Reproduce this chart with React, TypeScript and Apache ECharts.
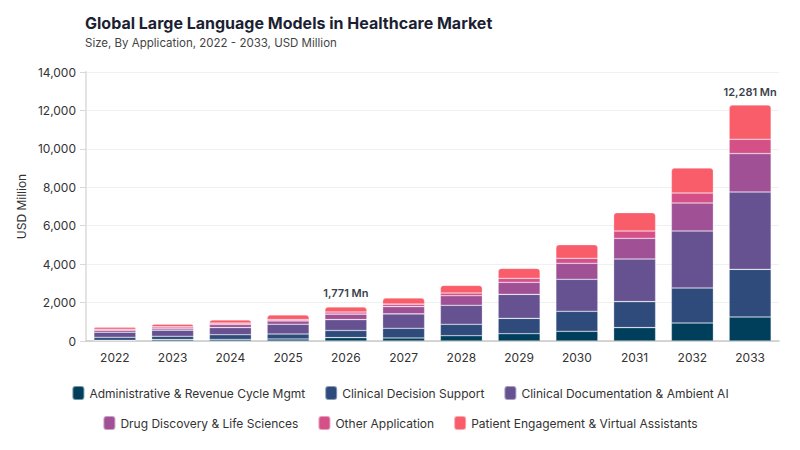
import { useEffect, useRef } from 'react'
import * as echarts from 'echarts'

const years = ['2022', '2023', '2024', '2025', '2026', '2027', '2028', '2029', '2030', '2031', '2032', '2033']

const seriesNames = [
  'Administrative & Revenue Cycle Mgmt',
  'Clinical Decision Support',
  'Clinical Documentation & Ambient AI',
  'Drug Discovery & Life Sciences',
  'Other Application',
  'Patient Engagement & Virtual Assistants',
]

const admin = [35, 70, 78, 105, 174, 160, 276, 380, 505, 697, 937, 1250]
const decision = [158, 178, 250, 260, 372, 500, 593, 800, 1041, 1353, 1822, 2480]
const documentation = [264, 317, 370, 507, 567, 750, 989, 1249, 1665, 2217, 2967, 4025]
const drug = [105, 105, 160, 173, 287, 380, 500, 625, 833, 1077, 1457, 2000]
const other = [53, 70, 72, 72, 106, 130, 139, 208, 260, 380, 520, 745]
const patient = [105, 140, 170, 243, 265, 316, 400, 520, 708, 958, 1301, 1781]

// 柱顶标注
const totalLabels: Record<string, string> = { '2026': '1,771 Mn', '2033': '12,281 Mn' }

const colors = ['#003f5c', '#2f4b7c', '#665191', '#a05195', '#d45087', '#f95d6a']

const font = 'Inter, "DejaVu Sans", sans-serif'

export default function App() {
  const chartRef = useRef<HTMLDivElement>(null)

  useEffect(() => {
    if (!chartRef.current) return
    const chart = echarts.init(chartRef.current, undefined, { renderer: 'svg' })

    const values = [admin, decision, documentation, drug, other, patient]

    const series: any[] = values.map((arr, i) => {
      const isTop = i === values.length - 1
      return {
        name: seriesNames[i],
        type: 'bar',
        stack: 'total',
        barWidth: 42,
        itemStyle: {
          color: colors[i],
          borderColor: 'rgba(255,255,255,0.45)',
          borderWidth: 0.6,
          borderRadius: isTop ? [3, 3, 0, 0] : 0,
        },
        data: isTop
          ? arr.map((v, j) => {
              const lbl = totalLabels[years[j]]
              if (!lbl) return v
              return {
                value: v,
                label: {
                  show: true,
                  position: 'top',
                  distance: 8,
                  formatter: lbl,
                  color: '#3a3f4b',
                  fontSize: 11,
                  fontWeight: 600,
                  fontFamily: font,
                },
              }
            })
          : arr,
      }
    })

    const legendCommon = {
      icon: 'roundRect',
      itemWidth: 12,
      itemHeight: 14,
      itemGap: 19,
      textStyle: { color: '#333', fontSize: 12, fontFamily: font },
      selectedMode: false,
    }

    chart.setOption({
      animation: false,
      backgroundColor: '#fff',
      title: {
        text: 'Global Large Language Models in Healthcare Market',
        subtext: 'Size, By Application, 2022 - 2033, USD Million',
        left: 80,
        top: 10,
        itemGap: 6,
        textStyle: { color: '#1c1f33', fontSize: 16, fontWeight: 700, fontFamily: font },
        subtextStyle: { color: '#444', fontSize: 11.5, fontFamily: font },
      },
      legend: [
        { ...legendCommon, data: seriesNames.slice(0, 3), left: 'center', top: 380 },
        { ...legendCommon, data: seriesNames.slice(3), left: 'center', top: 410 },
      ],
      grid: { left: 86, right: 21, top: 72, bottom: 109 },
      xAxis: {
        type: 'category',
        data: years,
        axisLine: { lineStyle: { color: '#c8c8c8', width: 1.5 } },
        axisTick: { show: false },
        axisLabel: { color: '#333', fontSize: 12, margin: 10, fontFamily: font },
      },
      yAxis: {
        type: 'value',
        min: 0,
        max: 14000,
        interval: 2000,
        name: 'USD Million',
        nameLocation: 'middle',
        nameGap: 58,
        nameTextStyle: { color: '#333', fontSize: 12, fontFamily: font },
        axisLine: { show: true, lineStyle: { color: '#e4e4e4', width: 2 } },
        axisTick: { show: true, length: 6, lineStyle: { color: '#d8d8d8' } },
        splitLine: { lineStyle: { color: '#f0f0f0' } },
        axisLabel: {
          color: '#333',
          fontSize: 12,
          margin: 10,
          fontFamily: font,
          formatter: (v: number) => v.toLocaleString('en-US'),
        },
      },
      series,
    })

    return () => chart.dispose()
  }, [])

  return (
    <div style={{ position: 'fixed', left: 0, top: 0, width: 800, height: 450 }}>
      <div ref={chartRef} style={{ width: '100%', height: '100%' }} />
    </div>
  )
}
